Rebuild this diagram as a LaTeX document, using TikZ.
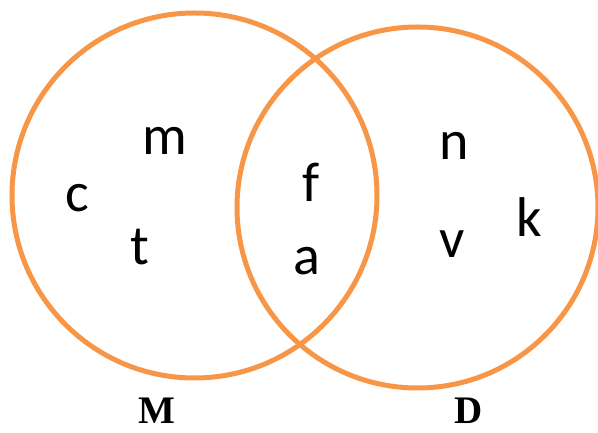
\documentclass[tikz,border=0pt]{standalone}
\usepackage{fontspec}
\setmainfont{Liberation Serif}
\newfontfamily\lettfont{Carlito}
\definecolor{vennorange}{HTML}{F79646}

\begin{document}
\begin{tikzpicture}[x=1pt, y=1pt,
        elem/.style={anchor=base, inner sep=0pt, font=\lettfont\fontsize{56}{56}\selectfont},
        setname/.style={anchor=base, inner sep=0pt, font=\bfseries\fontsize{39}{39}\selectfont}]
        \useasboundingbox (0,0) rectangle (598,433);

        \draw[vennorange, line width=5pt] (194.5,237.5) circle (182.5);
        \draw[vennorange, line width=5pt] (417.5,225.5) circle (180.5);

        \node[elem] (m) at (165,278) {m};
        \node[elem] (c) at (77,221) {c};
        \node[elem] (t) at (140,168) {t};
        \node[elem] (f) at (311,231) {f};
        \node[elem] (a) at (307,158) {a};
        \node[elem] (n) at (454,273) {n};
        \node[elem] (v) at (452,175) {v};
        \node[elem] (k) at (529,196) {k};

        \node[setname] (M) at (157,9) {M};
        \node[setname] (D) at (469,9) {D};
\end{tikzpicture}
\end{document}
